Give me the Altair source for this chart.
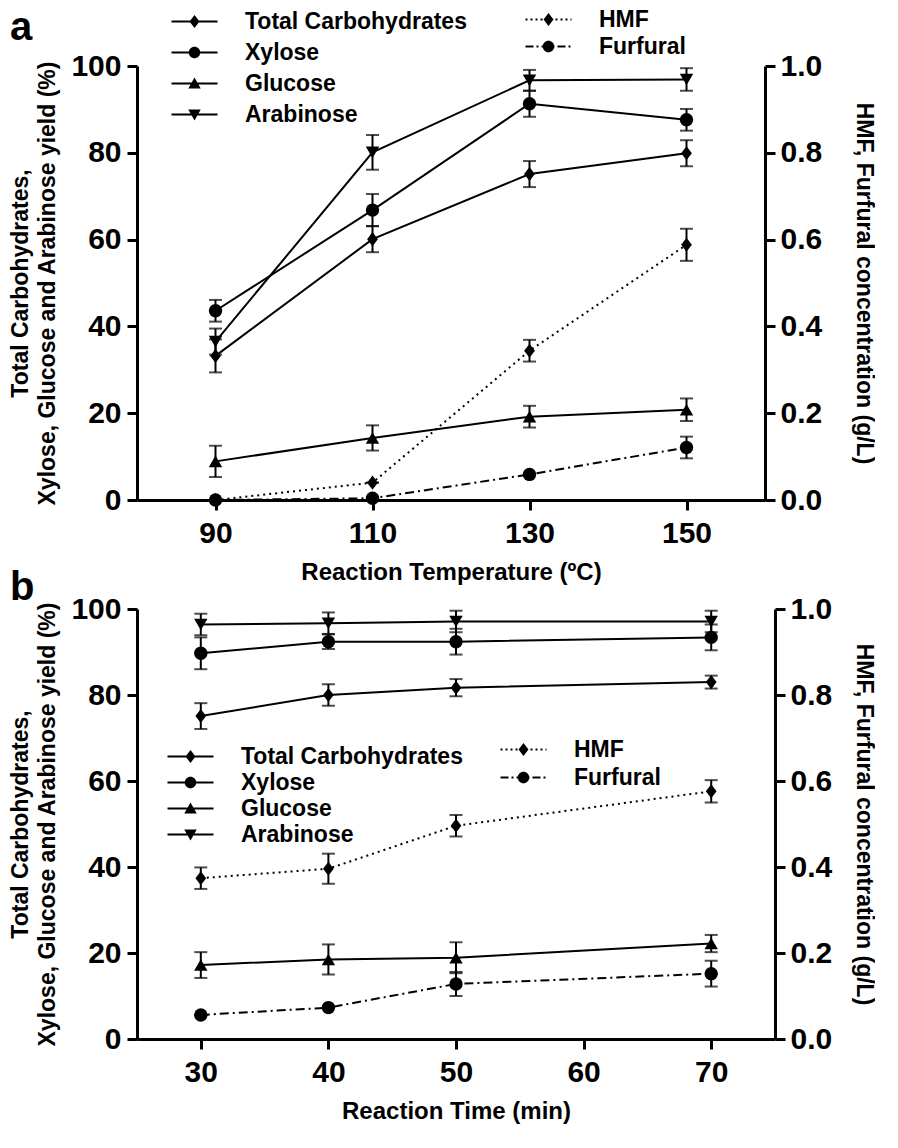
import altair as alt
import pandas as pd

# ---------------- data ----------------
carb_series = ["Total Carbohydrates", "Xylose", "Glucose", "Arabinose"]
prod_series = ["HMF", "Furfural"]

temps = [90, 110, 130, 150]
a_total = [33.2, 60.1, 75.1, 79.9]
a_total_err = [3.8, 3.0, 3.0, 3.0]
a_xylose = [43.6, 66.8, 91.3, 87.6]
a_xylose_err = [2.5, 3.7, 3.0, 2.5]
a_glucose = [8.9, 14.3, 19.2, 20.8]
a_glucose_err = [3.6, 2.9, 2.5, 2.6]
a_arabinose = [36.5, 80.1, 96.7, 96.9]
a_arabinose_err = [3.0, 4.0, 2.4, 2.6]
a_hmf = [0.0, 0.04, 0.344, 0.588]
a_hmf_err = [0.0, 0.0, 0.025, 0.037]
a_furfural = [0.0, 0.004, 0.059, 0.121]
a_furfural_err = [0.0, 0.0, 0.0, 0.025]

times = [30, 40, 50, 70]
b_total = [75.1, 80.0, 81.7, 83.0]
b_total_err = [3.0, 2.5, 2.0, 1.5]
b_xylose = [89.7, 92.4, 92.4, 93.4]
b_xylose_err = [3.7, 1.7, 3.0, 3.0]
b_glucose = [17.2, 18.5, 18.9, 22.2]
b_glucose_err = [3.0, 3.5, 3.6, 2.0]
b_arabinose = [96.4, 96.7, 97.1, 97.1]
b_arabinose_err = [2.5, 2.5, 2.5, 2.5]
b_hmf = [0.374, 0.396, 0.496, 0.576]
b_hmf_err = [0.025, 0.035, 0.025, 0.026]
b_furfural = [0.056, 0.073, 0.128, 0.152]
b_furfural_err = [0.0, 0.0, 0.028, 0.030]

left_ticks = [0, 20, 40, 60, 80, 100]
right_ticks = [0.0, 0.2, 0.4, 0.6, 0.8, 1.0]


def frame(xs, names, vals, errs):
    rows = []
    for name, v, e in zip(names, vals, errs):
        for x, vi, ei in zip(xs, v, e):
            rows.append({"x": x, "series": name, "v": vi, "e": ei})
    return pd.DataFrame(rows)


a_carbs = frame(temps, carb_series, [a_total, a_xylose, a_glucose, a_arabinose],
                [a_total_err, a_xylose_err, a_glucose_err, a_arabinose_err])
a_prods = frame(temps, prod_series, [a_hmf, a_furfural], [a_hmf_err, a_furfural_err])
b_carbs = frame(times, carb_series, [b_total, b_xylose, b_glucose, b_arabinose],
                [b_total_err, b_xylose_err, b_glucose_err, b_arabinose_err])
b_prods = frame(times, prod_series, [b_hmf, b_furfural], [b_hmf_err, b_furfural_err])

# ---------------- styling ----------------
FONT = "Liberation Sans"
DIAMOND = "M0,-1.05L0.8,0L0,1.05L-0.8,0Z"
UNIT = 5.0  # legend symbol path unit in px (symbolSize 100)


def seg_path(pattern, half=23.0, th=1.0):
    """legend line drawn as filled rectangles following a dash pattern (px)."""
    parts, pos, i = [], -half, 0
    while pos < half - 1e-9:
        ln = pattern[i % len(pattern)]
        end = min(pos + ln, half)
        if i % 2 == 0:
            a, b, t = pos / UNIT, end / UNIT, th / UNIT
            parts.append(f"M{a:.3f},{-t:.3f}L{b:.3f},{-t:.3f}L{b:.3f},{t:.3f}L{a:.3f},{t:.3f}Z")
        pos = end
        i += 1
    return "".join(parts)


SOLID = seg_path([46])
DOTTED = seg_path([2, 3])
DASHDOT = seg_path([8, 3, 2, 3])
L_DIA = "M0,-1.3L1,0L0,1.3L-1,0Z"
L_CIR = "M1.15,0A1.15,1.15,0,1,1,-1.15,0A1.15,1.15,0,1,1,1.15,0Z"
L_TUP = "M0,-1.2L1.25,1L-1.25,1Z"
L_TDN = "M0,1.2L-1.25,-1L1.25,-1Z"
carb_legend_shapes = [SOLID + L_DIA, SOLID + L_CIR, SOLID + L_TUP, SOLID + L_TDN]
prod_legend_shapes = [DOTTED + L_DIA, DASHDOT + L_CIR]
HMF_DASH = [2, 4]
FUR_DASH = [9, 4, 2, 4]


def legend(x, y, row_pad):
    return alt.Legend(
        title=None, orient="none", legendX=x, legendY=y, padding=0,
        symbolSize=100, rowPadding=row_pad, labelOffset=39,
        symbolStrokeWidth=0, symbolFillColor="black", symbolOpacity=1,
        labelFont=FONT, labelFontSize=23, labelFontWeight="bold", labelColor="black",
        labelLimit=0,
    )


def panel(carbs, prods, xdomain, xticks, xtitle, width, height, tag, tag_dy, rt_pad, leg_c, leg_p):
    x = alt.X("x:Q", scale=alt.Scale(domain=xdomain, nice=False, zero=False),
              axis=alt.Axis(values=xticks, title=xtitle, format="d", labelPadding=8, titlePadding=12,
                            titleFontSize=24))
    yl = alt.Y("v:Q", scale=alt.Scale(domain=[0, 100], nice=False),
               axis=alt.Axis(values=left_ticks, orient="left",
                             title=["Total Carbohydrates,", "Xylose, Glucose and Arabinose yield (%)"],
                             titlePadding=11, labelPadding=6, titleLineHeight=27, titleFontSize=23))
    yr = alt.Y("v:Q", scale=alt.Scale(domain=[0, 1], nice=False),
               axis=alt.Axis(values=right_ticks, orient="right", format=".1f",
                             title="HMF, Furfural concentration (g/L)", titleFontSize=23,
                             titlePadding=rt_pad, labelPadding=5))

    cb = alt.Chart(carbs)
    left = alt.layer(
        cb.mark_line(color="black", strokeWidth=2).encode(x=x, y=yl, detail="series:N"),
        cb.mark_errorbar(ticks=True, size=13, thickness=2, color="black").encode(x=x, y=yl, yError="e:Q"),
        cb.mark_point(filled=True, opacity=1, color="black", size=180).encode(
            x=x, y=yl,
            shape=alt.Shape("series:N", scale=alt.Scale(domain=carb_series,
                                                        range=[DIAMOND, "circle", "triangle-up", "triangle-down"]),
                            legend=None),
        ),
        cb.transform_filter("false").mark_point(filled=True, opacity=1, color="black", size=100).encode(
            shape=alt.Shape("series:N", scale=alt.Scale(domain=carb_series, range=carb_legend_shapes),
                            legend=legend(*leg_c)),
        ),
    ).resolve_scale(shape="independent")

    pb = alt.Chart(prods)
    right = alt.layer(
        pb.transform_filter("datum.series === 'HMF'").mark_line(
            color="black", strokeWidth=2, strokeDash=HMF_DASH).encode(x=x, y=yr),
        pb.transform_filter("datum.series === 'Furfural'").mark_line(
            color="black", strokeWidth=2, strokeDash=FUR_DASH).encode(x=x, y=yr),
        pb.mark_errorbar(ticks=True, size=13, thickness=2, color="black").encode(x=x, y=yr, yError="e:Q"),
        pb.mark_point(filled=True, opacity=1, color="black", size=180).encode(
            x=x, y=yr,
            shape=alt.Shape("series:N", scale=alt.Scale(domain=prod_series, range=[DIAMOND, "circle"]),
                            legend=None),
        ),
        pb.transform_filter("false").mark_point(filled=True, opacity=1, color="black", size=100).encode(
            shape=alt.Shape("series:N", scale=alt.Scale(domain=prod_series, range=prod_legend_shapes),
                            legend=legend(*leg_p)),
        ),
    ).resolve_scale(shape="independent")

    return alt.layer(left, right).resolve_scale(y="independent", shape="independent").properties(
        width=width, height=height,
        title=alt.TitleParams(tag, anchor="start", frame="bounds", fontSize=40, fontWeight="bold",
                              font=FONT, color="black", offset=0, dy=tag_dy),
    )


pa = panel(a_carbs, a_prods, [80, 160], temps, "Reaction Temperature (ºC)", 628, 434, "a", 40, 30,
           (46, -56, 7), (400, -58, 3))
pb_ = panel(b_carbs, b_prods, [25, 75], [30, 40, 50, 60, 70], "Reaction Time (min)", 638, 430, "b", 14, 20,
            (42, 136, 2), (375, 129, 4))

chart = alt.vconcat(pa, pb_, spacing=-16).configure_axis(
    labelFont=FONT, labelFontSize=30, labelFontWeight="bold", labelColor="black",
    titleFont=FONT, titleFontSize=22, titleFontWeight="bold", titleColor="black",
    domainColor="black", domainWidth=3, tickColor="black", tickWidth=3, tickSize=10, grid=False,
).configure_view(stroke=None).properties(padding={"left": 1, "top": 0, "right": 0, "bottom": 2})

chart.save("out.html", embed_options={"renderer": "svg", "actions": False})
